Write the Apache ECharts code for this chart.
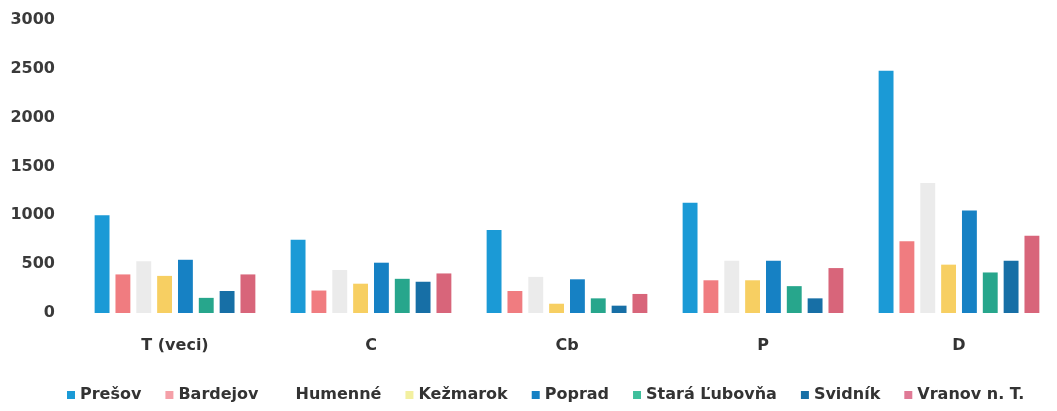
<!DOCTYPE html>
<html><head><meta charset="utf-8">
<script src="https://cdn.jsdelivr.net/npm/echarts@6/dist/echarts.min.js"></script>
<style>html,body{margin:0;padding:0;background:#fff}#c{width:1057px;height:411px}</style>
</head><body><div id="c"></div>
<script>
const categories = ['T (veci)', 'C', 'Cb', 'P', 'D'];
const yTicks = [0, 500, 1000, 1500, 2000, 2500, 3000];
const presov   = [1000, 750, 850, 1130, 2480];
const bardejov = [395, 230, 225, 335, 735];
const humenne  = [530, 440, 370, 535, 1330];
const kezmarok = [380, 300, 95, 335, 495];
const poprad   = [545, 515, 345, 535, 1050];
const staraL   = [155, 350, 150, 275, 415];
const svidnik  = [225, 320, 75, 150, 535];
const vranov   = [395, 405, 195, 460, 790];
const seriesNames = ['Prešov', 'Bardejov', 'Humenné', 'Kežmarok', 'Poprad', 'Stará Ľubovňa', 'Svidník', 'Vranov n. T.'];
const seriesData = [presov, bardejov, humenne, kezmarok, poprad, staraL, svidnik, vranov];
const colors = ['#1b9ad6', '#f07c80', '#ebebeb', '#f7cf62', '#1681c4', '#27a68c', '#176fa6', '#d8657a'];
const legendIconColors = ['#1b9ad6', '#f5a0a8', '#ffffff', '#f3f0a0', '#1681c4', '#3fbf9c', '#176fa6', '#e07a96'];

const font = '"DejaVu Sans", sans-serif';
const chart = echarts.init(document.getElementById('c'), null, {renderer: 'canvas'});
chart.setOption({
  animation: false,
  color: colors,
  grid: {left: 77, right: 0, top: 20, bottom: 98},
  legend: {
    bottom: 3, left: 62,
    itemWidth: 8, itemHeight: 8, itemGap: 24,
    icon: 'rect',
    textStyle: {fontFamily: font, fontWeight: 'bold', fontSize: 16, color: '#333'},
    data: seriesNames.map((n, i) => ({name: n, itemStyle: {color: legendIconColors[i]}}))
  },
  xAxis: {
    type: 'category', data: categories,
    axisLine: {show: false}, axisTick: {show: false},
    axisLabel: {margin: 25, fontFamily: font, fontWeight: 'bold', fontSize: 16, color: '#333'}
  },
  yAxis: {
    type: 'value', min: 0, max: 3000, interval: 500,
    splitLine: {show: false}, axisLine: {show: false}, axisTick: {show: false},
    axisLabel: {margin: 22, fontFamily: font, fontWeight: 'bold', fontSize: 16, color: '#3a3a3a',
      formatter: v => String(v)}
  },
  series: seriesData.map((d, i) => ({
    name: seriesNames[i], type: 'bar', data: d,
    barGap: '40%', barCategoryGap: '18%',
    itemStyle: {color: colors[i]}
  }))
});
</script></body></html>
